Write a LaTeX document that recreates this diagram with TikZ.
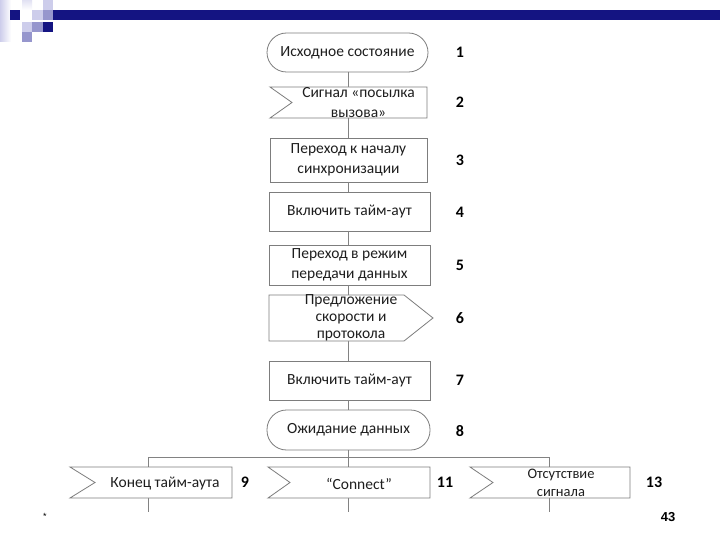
\documentclass[tikz,border=0pt]{standalone}
\usepackage{fontspec}
\setmainfont{Carlito}
\newfontfamily\arialfont{Liberation Sans}
\usetikzlibrary{calc}
\definecolor{navy}{RGB}{20,20,130}
\definecolor{medblue}{RGB}{150,150,205}
\definecolor{lightblue}{RGB}{205,205,235}
\definecolor{boxgray}{RGB}{125,125,125}
\definecolor{linegray}{RGB}{130,130,130}
\definecolor{txtgray}{RGB}{30,30,30}
\tikzset{
  outl/.style={draw=boxgray, line width=0.8pt, fill=white},
  fbox/.style={outl, rectangle, inner sep=0pt, outer sep=0pt, align=center,
    text=txtgray, font=\fontsize{15.5}{20.5}\selectfont},
  stadium/.style={fbox, rounded corners=19.5pt},
  hollow/.style={rectangle, draw=none, inner sep=0pt, outer sep=0pt},
  txt/.style={align=center, text=txtgray, font=\fontsize{15.5}{20.5}\selectfont, inner sep=0pt},
  num/.style={font=\fontsize{16}{18}\selectfont\bfseries, text=black, inner sep=0pt},
  conn/.style={draw=linegray, line width=0.8pt}
}
\begin{document}
\begin{tikzpicture}[x=1pt,y=-1pt]
\useasboundingbox (0,0) rectangle (720,540);
\fill[white] (0,0) rectangle (720,540);
% corner decoration
\shade[left color=lightblue, right color=white] (0,0) rectangle (11,42);
\shade[top color=lightblue!60, bottom color=white] (22,0) rectangle (32,10);
\fill[navy] (10,10) rectangle (20,20);
\fill[lightblue] (22,22) rectangle (32,32);
\fill[medblue] (22,32) rectangle (32,42);
\fill[lightblue] (32,10) rectangle (43,20);
\fill[medblue] (32,22) rectangle (43,32);
\fill[lightblue] (43,0) rectangle (53,10);
\fill[medblue] (43,10) rectangle (53,20);
\fill[navy] (43,22) rectangle (53,32);
\fill[navy] (53,10) rectangle (720,20);

% main column
\node[stadium, minimum width=161pt, minimum height=39pt] (n1) at (347.5,52.5) {\raisebox{-1.5pt}{Исходное состояние}};
\node[hollow, minimum width=157pt, minimum height=31pt] (n2) at (348.5,102.5) {};
\node[fbox, minimum width=157pt, minimum height=44pt] (n3) at (348.5,160) {Переход к началу\\синхронизации};
\node[fbox, minimum width=161pt, minimum height=39pt] (n4) at (349.5,211.5) {Включить тайм-аут};
\node[fbox, minimum width=161pt, minimum height=40pt] (n5) at (349.5,265) {Переход в режим\\передачи данных};
\node[hollow, minimum width=164pt, minimum height=46pt] (n6) at (351,318) {};
\node[fbox, minimum width=161pt, minimum height=39pt] (n7) at (349.5,380.5) {Включить тайм-аут};
\node[stadium, minimum width=163pt, minimum height=40pt] (n8) at (348.5,430) {\raisebox{-1.5pt}{Ожидание данных}};
% bottom row
\node[hollow, minimum width=162pt, minimum height=31pt] (n9) at (151,482.5) {};
\node[hollow, minimum width=162pt, minimum height=31pt] (n11) at (349,482.5) {};
\node[hollow, minimum width=160pt, minimum height=31pt] (n13) at (550,482.5) {};

% connectors
\coordinate (bL) at (148,457);
\coordinate (bM) at (348,457);
\coordinate (bR) at (549,457);
\coordinate (e9) at (148,512);
\coordinate (e11) at (348,512);
\coordinate (e13) at (549,512);
\draw[conn] (n1.south -| bM) -- (n2.north -| bM);
\draw[conn] (n2.south -| bM) -- (n3.north -| bM);
\draw[conn] (n3.south -| bM) -- (n4.north -| bM);
\draw[conn] (n4.south -| bM) -- (n5.north -| bM);
\draw[conn] (n5.south -| bM) -- (n6.north -| bM);
\draw[conn] (n6.south -| bM) -- (n7.north -| bM);
\draw[conn] (n7.south -| bM) -- (n8.north -| bM);
\draw[conn] (n8.south -| bM) -- (bM);
\draw[conn] (bL) -- (bR);
\draw[conn] (bL) -- (n9.north -| bL);
\draw[conn] (bM) -- (n11.north -| bM);
\draw[conn] (bR) -- (n13.north -| bR);
\draw[conn] (n9.south -| bL) -- (e9);
\draw[conn] (n11.south -| bM) -- (e11);
\draw[conn] (n13.south -| bR) -- (e13);

% signal outlines
\draw[outl] (n2.north west) -- (n2.north east) -- (n2.south east) -- (n2.south west) -- ($(n2.west)+(22,0)$) -- cycle;
\draw[outl] (n6.north west) -- ($(n6.north east)+(-29,0)$) -- (n6.east) -- ($(n6.south east)+(-29,0)$) -- (n6.south west) -- cycle;
\draw[outl] (n9.north west) -- (n9.north east) -- (n9.south east) -- (n9.south west) -- ($(n9.west)+(25,0)$) -- cycle;
\draw[outl] (n11.north west) -- (n11.north east) -- (n11.south east) -- (n11.south west) -- ($(n11.west)+(22,0)$) -- cycle;
\draw[outl] (n13.north west) -- (n13.north east) -- (n13.south east) -- (n13.south west) -- ($(n13.west)+(23,0)$) -- cycle;

% texts of signal shapes
\node[txt] at ($(n2)+(10,0)$) {Сигнал «посылка\\вызова»};
\node[txt, font=\fontsize{15.5}{17}\selectfont] at (n6) {Предложение\\скорости и\\протокола};
\node[txt] at ($(n9)+(14,1)$) {Конец тайм-аута};
\node[txt] at ($(n11)+(10,1)$) {“Connect”};
\node[txt, font=\fontsize{14.5}{18}\selectfont] at ($(n13)+(11,0)$) {Отсутствие\\сигнала};

% numbers
\node[num] at (460,52) {1};
\node[num] at (460,102) {2};
\node[num] at (460,160) {3};
\node[num] at (460,212) {4};
\node[num] at (460,265) {5};
\node[num] at (460,318) {6};
\node[num] at (460,380) {7};
\node[num] at (460,431) {8};
\node[num] at (245,482) {9};
\node[num] at (445,482) {11};
\node[num] at (654,482) {13};

\node[font=\arialfont\fontsize{9}{10}\selectfont, inner sep=0pt] at (45,516) {*};
\node[font=\arialfont\fontsize{13}{15}\selectfont\bfseries, inner sep=0pt] at (668,517) {43};
\end{tikzpicture}
\end{document}
